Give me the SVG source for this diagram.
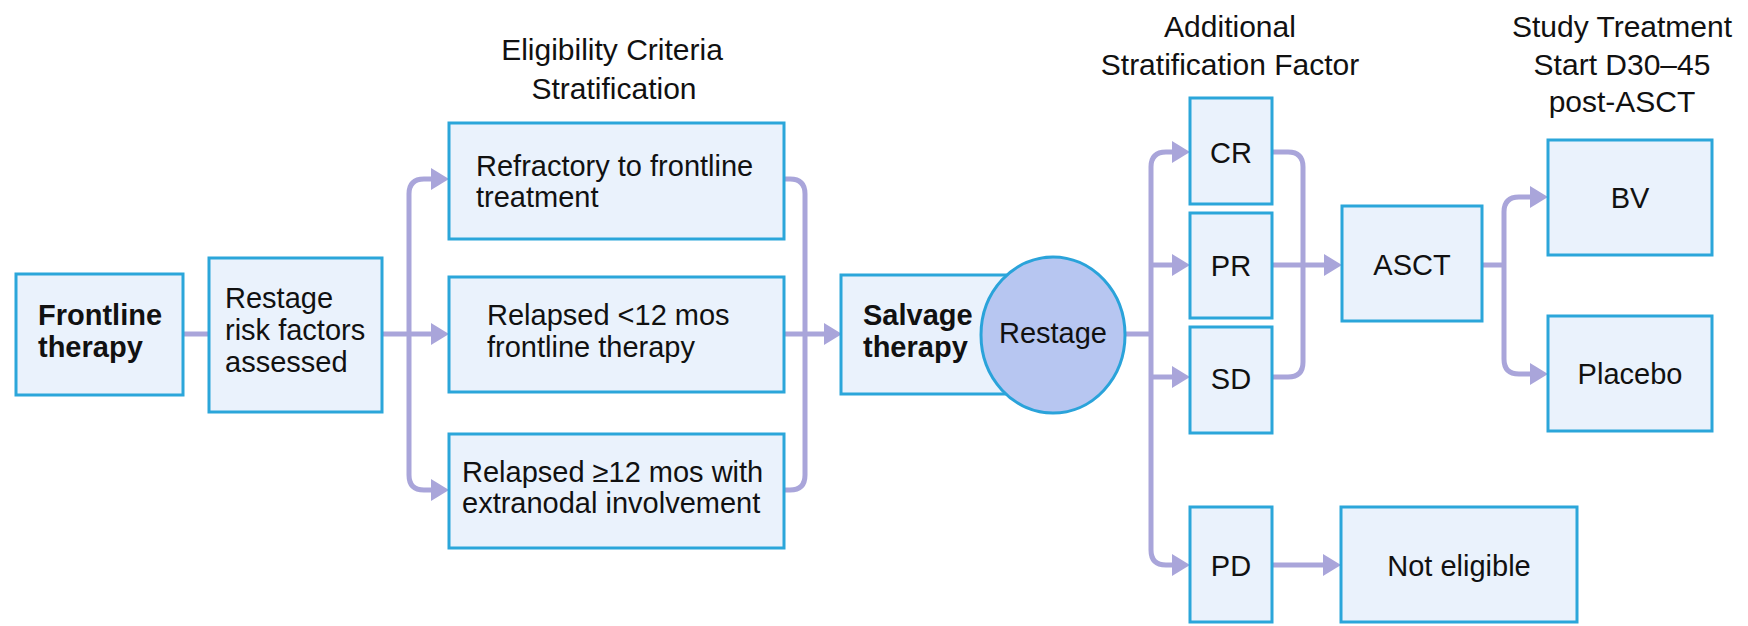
<svg xmlns="http://www.w3.org/2000/svg" width="1748" height="626" viewBox="0 0 1748 626">
<style>
.box{fill:#EAF2FC;stroke:#2BA6DA;stroke-width:3}
.oval{fill:#B7C6F1;stroke:#2AA3DA;stroke-width:3}
.t{font-family:"Liberation Sans",Arial,sans-serif;font-size:29px;fill:#111}
.b{font-weight:bold}
.h{font-family:"Liberation Sans",Arial,sans-serif;font-size:30px;fill:#111;text-anchor:middle}
.c{text-anchor:middle}
.ln{fill:none;stroke:#A9A5DA;stroke-width:5}
.ar{marker-end:url(#ah)}
</style>
<defs>
<marker id="ah" markerUnits="userSpaceOnUse" markerWidth="20" markerHeight="24" refX="12" refY="11" orient="auto">
<path d="M0,0 L18,11 L0,22 z" fill="#A9A5DA"/>
</marker>
</defs>
<rect width="1748" height="626" fill="#FFFFFF"/>

<g id="headers">
<text class="h" x="612" y="60">Eligibility Criteria</text>
<text class="h" x="614" y="99">Stratification</text>
<text class="h" x="1230" y="37">Additional</text>
<text class="h" x="1230" y="75">Stratification Factor</text>
<text class="h" x="1622" y="37">Study Treatment</text>
<text class="h" x="1622" y="75">Start D30–45</text>
<text class="h" x="1622" y="112">post-ASCT</text>
</g>

<g id="connectors">
<path class="ln" d="M183,334 H209"/>
<path class="ln ar" d="M382,334 H443"/>
<path class="ln ar" d="M409,334 V194 Q409,179 424,179 H443"/>
<path class="ln ar" d="M409,334 V475 Q409,490 424,490 H443"/>
<path class="ln" d="M784,179 H790 Q805,179 805,194 V475 Q805,490 790,490 H784"/>
<path class="ln ar" d="M784,334 H836"/>
<path class="ln" d="M1125,334 H1151"/>
<path class="ln ar" d="M1151,334 V167 Q1151,152 1166,152 H1184"/>
<path class="ln ar" d="M1151,265 H1184"/>
<path class="ln ar" d="M1151,377 H1184"/>
<path class="ln ar" d="M1151,334 V550 Q1151,565 1166,565 H1184"/>
<path class="ln" d="M1272,152 H1288 Q1303,152 1303,167 V362 Q1303,377 1288,377 H1272"/>
<path class="ln ar" d="M1272,265 H1336"/>
<path class="ln" d="M1482,265 H1504"/>
<path class="ln ar" d="M1504,265 V212 Q1504,197 1519,197 H1542"/>
<path class="ln ar" d="M1504,265 V359 Q1504,374 1519,374 H1542"/>
<path class="ln ar" d="M1272,565 H1335"/>
</g>

<g id="frontline">
<rect class="box" x="16" y="274" width="167" height="121"/>
<text class="t b" x="38" y="325">Frontline</text>
<text class="t b" x="38" y="357">therapy</text>
</g>

<g id="restage1">
<rect class="box" x="209" y="258" width="173" height="154"/>
<text class="t" x="225" y="308">Restage</text>
<text class="t" x="225" y="340">risk factors</text>
<text class="t" x="225" y="372">assessed</text>
</g>

<g id="refractory">
<rect class="box" x="449" y="123" width="335" height="116"/>
<text class="t" x="476" y="176">Refractory to frontline</text>
<text class="t" x="476" y="207">treatment</text>
</g>

<g id="relapsed-lt12">
<rect class="box" x="449" y="277" width="335" height="115"/>
<text class="t" x="487" y="325">Relapsed &lt;12 mos</text>
<text class="t" x="487" y="357">frontline therapy</text>
</g>

<g id="relapsed-ge12">
<rect class="box" x="449" y="434" width="335" height="114"/>
<text class="t" x="462" y="482">Relapsed ≥12 mos with</text>
<text class="t" x="462" y="513">extranodal involvement</text>
</g>

<g id="salvage">
<rect class="box" x="841" y="275" width="170" height="119"/>
<text class="t b" x="863" y="325">Salvage</text>
<text class="t b" x="863" y="357">therapy</text>
</g>

<g id="restage2">
<ellipse class="oval" cx="1053" cy="335" rx="72" ry="78"/>
<text class="t c" x="1053" y="343">Restage</text>
</g>

<g id="cr">
<rect class="box" x="1190" y="98" width="82" height="106"/>
<text class="t c" x="1231" y="163">CR</text>
</g>

<g id="pr">
<rect class="box" x="1190" y="213" width="82" height="105"/>
<text class="t c" x="1231" y="276">PR</text>
</g>

<g id="sd">
<rect class="box" x="1190" y="327" width="82" height="106"/>
<text class="t c" x="1231" y="389">SD</text>
</g>

<g id="pd">
<rect class="box" x="1190" y="507" width="82" height="115"/>
<text class="t c" x="1231" y="576">PD</text>
</g>

<g id="asct">
<rect class="box" x="1342" y="206" width="140" height="115"/>
<text class="t c" x="1412" y="275">ASCT</text>
</g>

<g id="bv">
<rect class="box" x="1548" y="140" width="164" height="115"/>
<text class="t c" x="1630" y="208">BV</text>
</g>

<g id="placebo">
<rect class="box" x="1548" y="316" width="164" height="115"/>
<text class="t c" x="1630" y="384">Placebo</text>
</g>

<g id="not-eligible">
<rect class="box" x="1341" y="507" width="236" height="115"/>
<text class="t c" x="1459" y="576">Not eligible</text>
</g>
</svg>
